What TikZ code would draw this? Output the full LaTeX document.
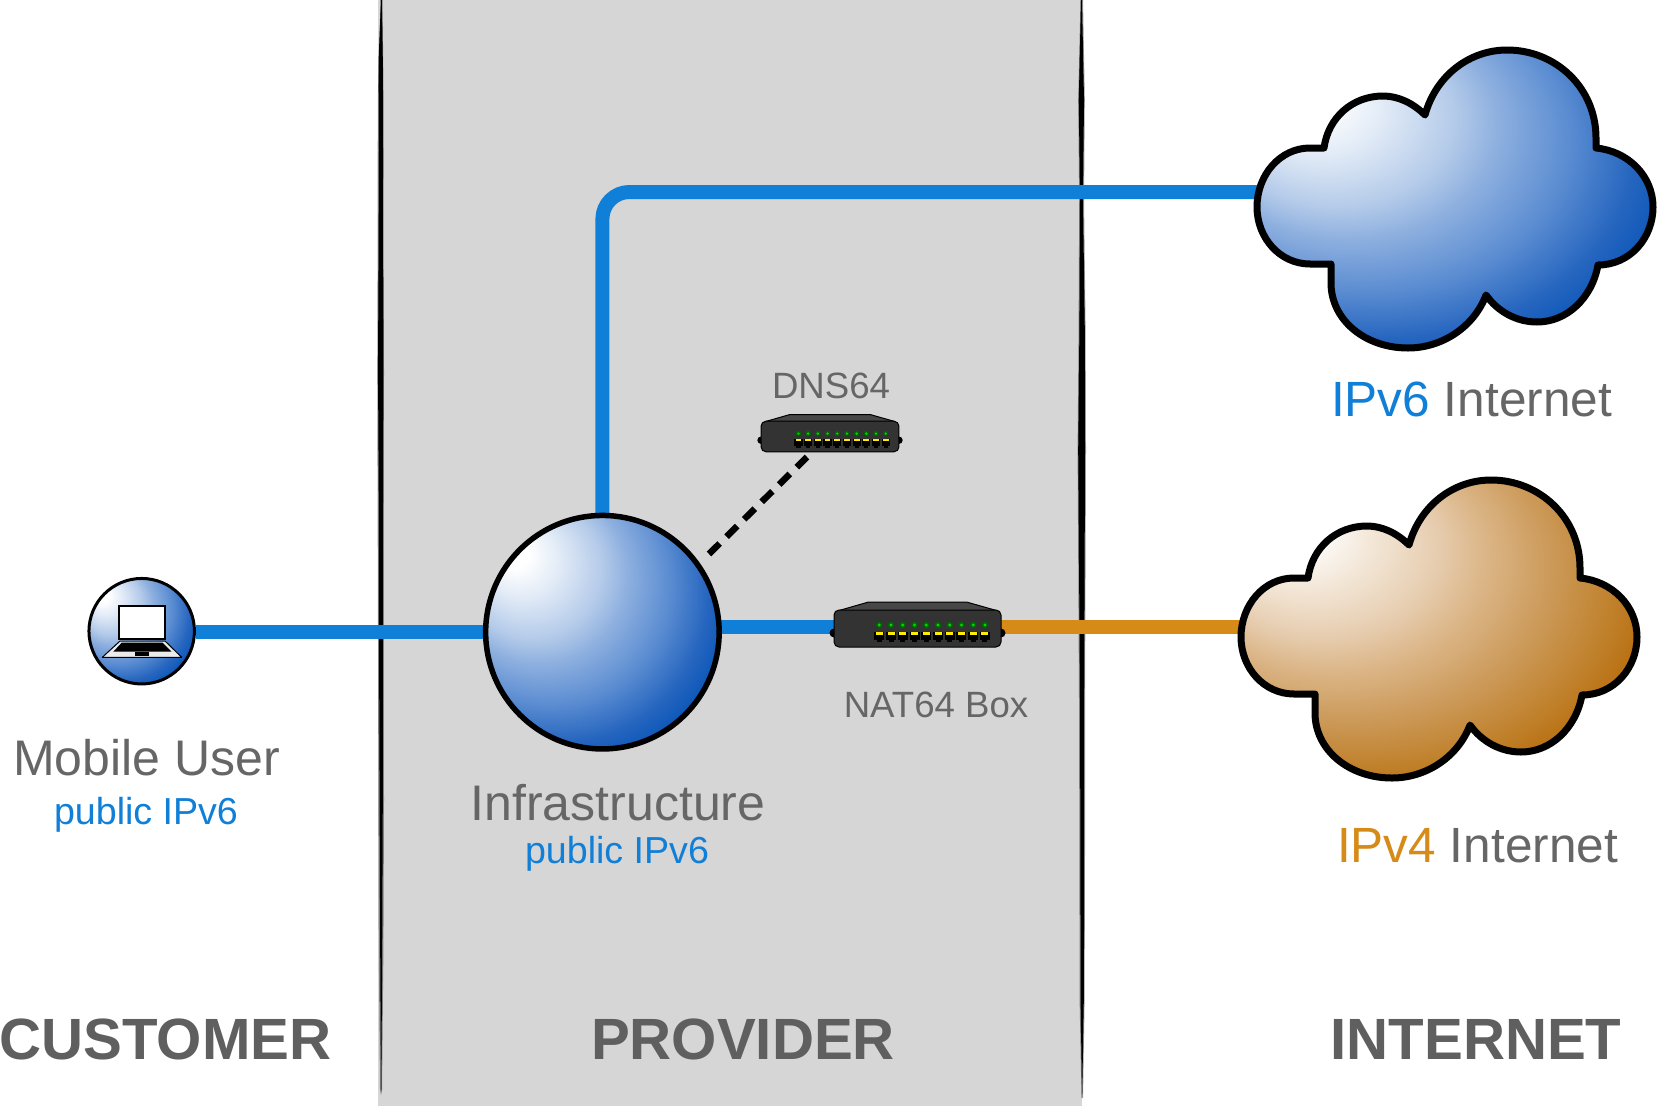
\documentclass[tikz,border=0pt]{standalone}
\usepackage{fontspec}
\setmainfont{Liberation Sans}
\usetikzlibrary{calc}
\definecolor{linkblue}{HTML}{107FD8}
\definecolor{linkorange}{HTML}{D68A17}
\definecolor{labelgray}{HTML}{666666}
\definecolor{boldgray}{HTML}{5F5F5F}
\definecolor{panelgray}{HTML}{D6D6D6}
\pgfdeclareradialshading{ballblue}{\pgfpoint{-20bp}{18bp}}{
 rgb(0bp)=(1,1,1); rgb(3.2bp)=(1,1,1);
 rgb(8.5bp)=(0.875,0.914,0.965);
 rgb(15bp)=(0.702,0.792,0.914);
 rgb(19bp)=(0.557,0.690,0.875);
 rgb(25.5bp)=(0.365,0.557,0.824);
 rgb(32bp)=(0.145,0.396,0.749);
 rgb(37.5bp)=(0,0.314,0.710);
 rgb(60bp)=(0,0.314,0.710)}
\pgfdeclareradialshading{ballorange}{\pgfpoint{-20bp}{18bp}}{
 rgb(0bp)=(1,1,1); rgb(3.2bp)=(1,1,1);
 rgb(8.5bp)=(0.953,0.906,0.847);
 rgb(15bp)=(0.902,0.800,0.682);
 rgb(19bp)=(0.863,0.718,0.541);
 rgb(25.5bp)=(0.800,0.604,0.353);
 rgb(32bp)=(0.749,0.498,0.157);
 rgb(37.5bp)=(0.706,0.388,0);
 rgb(60bp)=(0.706,0.388,0)}
\pgfdeclarelayer{panel}
\pgfdeclarelayer{links}
\pgfsetlayers{panel,links,main}
\tikzset{
 bigtext/.style={anchor=base,inner sep=0pt,text=labelgray,font=\fontsize{50}{54}\selectfont},
 nettext/.style={anchor=base,inner sep=0pt,text=labelgray,font=\fontsize{49.5}{54}\selectfont},
 midtext/.style={anchor=base,inner sep=0pt,text=linkblue,font=\fontsize{37.6}{40}\selectfont},
 boxtext/.style={anchor=base,inner sep=0pt,text=labelgray,font=\fontsize{36.6}{40}\selectfont},
 zonetext/.style={anchor=base,inner sep=0pt,text=boldgray,font=\fontsize{58.2}{62}\selectfont\bfseries},
 bluelink/.style={draw=linkblue,line width=14pt},
 orangelink/.style={draw=linkorange,line width=14pt},
 dashlink/.style={draw=black,line width=6.5pt,dash pattern=on 15pt off 9.7pt},
 cloudshape/.style={draw=black,line width=7pt,line join=round},
 rackbody/.style={rectangle,rounded corners=5pt,draw=black,line width=1pt,fill=black!80,minimum width=167pt,minimum height=37pt,inner sep=0pt},
}
\newcommand{\cloudoutline}{(1425,115) .. controls (1436,75) and (1470,50) .. (1507,50) .. controls (1556,50) and (1596,88) .. (1596,138) -- (1596,148) .. controls (1628,151) and (1653,176) .. (1653,207) .. controls (1653,238) and (1630,265) .. (1598,265) .. controls (1592,298) and (1567,322) .. (1537,322) .. controls (1517,322) and (1498,312) .. (1486,295) .. controls (1474,327) and (1442,348) .. (1408,348) .. controls (1365,348) and (1331,320) .. (1331,283) -- (1331,264) -- (1310,264) .. controls (1280,264) and (1257,238) .. (1257,207) .. controls (1257,175) and (1280,148) .. (1310,148) -- (1324,148) .. controls (1328,118) and (1352,96) .. (1383,96) .. controls (1398,96) and (1413,103) .. (1425,115) -- cycle}
\newcommand{\rackunit}[4]{%
 \begin{scope}[shift={(#2,#3)},scale=#4]
  \fill[black] (-83.5,4.5) circle (4.5) (83.5,4.5) circle (4.5);
  \path[fill=black!72,draw=black,line width=1pt,line join=round] (-78.5,-18) -- (-49,-26.5) -- (49,-26.5) -- (79,-18) -- cycle;
  \node[rackbody,transform shape] (#1) at (0,0) {};
  \foreach \i in {0,...,9}{
   \pgfmathsetmacro{\px}{-38.2+11.74*\i}
   \fill[black!60!green] (\px,-3.5) circle (3.2);
   \fill[green!85!black] (\px,-3.5) circle (1.6);
   \fill[black] (\px-5,3.2) rectangle (\px+5,11);
   \fill[black] (\px-2.5,11) rectangle (\px+2.5,13.5);
   \fill[yellow!95!orange] (\px-3.5,3.6) rectangle (\px+3.5,6);
  }
 \end{scope}}
\begin{document}
\begin{tikzpicture}[x=1pt,y=-1pt]
\useasboundingbox (0,0) rectangle (1657,1106);
\begin{pgfonlayer}{panel}
 \fill[white] (0,0) rectangle (1657,1106);
 \fill[panelgray] (378,0) rectangle (1082,1106);
 \fill[black,opacity=.4] (380.5,0) -- (382.5,0) -- (383.6,100) -- (383.4,250) -- (384,370) -- (383.8,630) -- (384,800) -- (383.4,950) -- (382,1090) -- (381,1095) -- (380,1090) -- (378.8,950) -- (378.4,800) -- (378,630) -- (377.2,370) -- (377.6,250) -- (377.8,100) -- cycle;
 \fill[black] (381,0) -- (381.8,0) -- (382.8,60) -- (383,150) -- (383.2,250) -- (383.4,370) -- (383,500) -- (382.8,630) -- (382.8,800) -- (382.2,950) -- (381.3,1090) -- (381,1090) -- (380.2,950) -- (379.6,800) -- (379,630) -- (378.8,500) -- (378,370) -- (378.6,250) -- (379,150) -- (378.6,60) -- cycle;
 \fill[black,opacity=.4] (1080.5,0) -- (1083,0) -- (1084.8,100) -- (1084,200) -- (1085.6,330) -- (1086,450) -- (1085,700) -- (1085,850) -- (1084.6,1000) -- (1083,1098) -- (1081.5,1098) -- (1079.6,1000) -- (1079.4,850) -- (1079,700) -- (1077.6,450) -- (1078.6,330) -- (1079.2,200) -- (1078.2,100) -- cycle;
 \fill[black] (1081,0) -- (1082,0) -- (1084,100) -- (1083,200) -- (1084.8,330) -- (1085,450) -- (1084.2,700) -- (1084.2,850) -- (1083.8,1000) -- (1082.2,1095) -- (1082,1095) -- (1080.6,1000) -- (1080.4,850) -- (1080,700) -- (1078.2,450) -- (1079.4,330) -- (1080,200) -- (1078.8,100) -- cycle;
\end{pgfonlayer}

% clouds
\path[cloudshape,shade,shading=ballblue] \cloudoutline;
\begin{scope}[shift={(-16,430)}]
 \path[cloudshape,shade,shading=ballorange] \cloudoutline;
\end{scope}
\coordinate (cloudsix) at (1262,192);
\coordinate (cloudfour) at (1246,627);

% infrastructure sphere
\node[circle,draw=black,line width=5.5pt,shade,shading=ballblue,minimum size=233.5pt,inner sep=0pt] (sphere) at (602.4,632.2) {};

% mobile user
\node[circle,draw=black,line width=3pt,shade,shading=ballblue,minimum size=105.5pt,inner sep=0pt] (laptop) at (141.7,631.2) {};
\fill[white,draw=black,line width=2pt] (119.3,606) rectangle (165,639.3);
\fill[white!92!black,draw=black,line width=1pt,line join=round] (120,641) -- (165,641) -- (181.7,657.3) -- (102.3,657.3) -- cycle;
\fill[black] (121.7,642.7) -- (162.7,642.7) -- (171.7,651.7) -- (113.3,651.7) -- cycle;
\fill[black] (135,651.7) rectangle (149.3,656);

% boxes
\rackunit{dnsbox}{830}{436.5}{0.826}
\rackunit{natbox}{917.5}{628.5}{1}

\coordinate (dashnear) at (709,554);
\coordinate (dashfar) at (807,457);

\begin{pgfonlayer}{links}
 \draw[bluelink] (laptop.east |- sphere.center) -- (sphere.center);
 \draw[bluelink,rounded corners=27pt] (sphere.center) -- (sphere.center |- cloudsix) -- (cloudsix);
 \draw[bluelink] (sphere.center |- cloudfour) -- (natbox.center |- cloudfour);
 \draw[orangelink] (natbox.center |- cloudfour) -- (cloudfour);
\end{pgfonlayer}
\draw[dashlink] (dashnear) -- (dashfar);

% labels
\node[bigtext] (lbluser) at (146.5,775.5) {Mobile User};
\node[midtext] (lbluserip) at (146,824) {public IPv6};
\node[bigtext] (lblinfra) at (618,820) {Infrastructure};
\node[midtext] (lblinfraip) at (617,863) {public IPv6};
\node[boxtext] (lbldns) at (831,398) {DNS64};
\node[boxtext] (lblnat) at (936,717.5) {NAT64 Box};
\node[nettext] (lblsix) at (1471.5,416.5) {\textcolor{linkblue}{IPv6} Internet};
\node[nettext] (lblfour) at (1477.5,862.5) {\textcolor{linkorange}{IPv4} Internet};
\node[zonetext] (zonecust) at (165.5,1059) {CUSTOMER};
\node[zonetext] (zoneprov) at (743,1059) {PROVIDER};
\node[zonetext] (zonenet) at (1476,1059) {INTERNET};
\end{tikzpicture}
\end{document}
